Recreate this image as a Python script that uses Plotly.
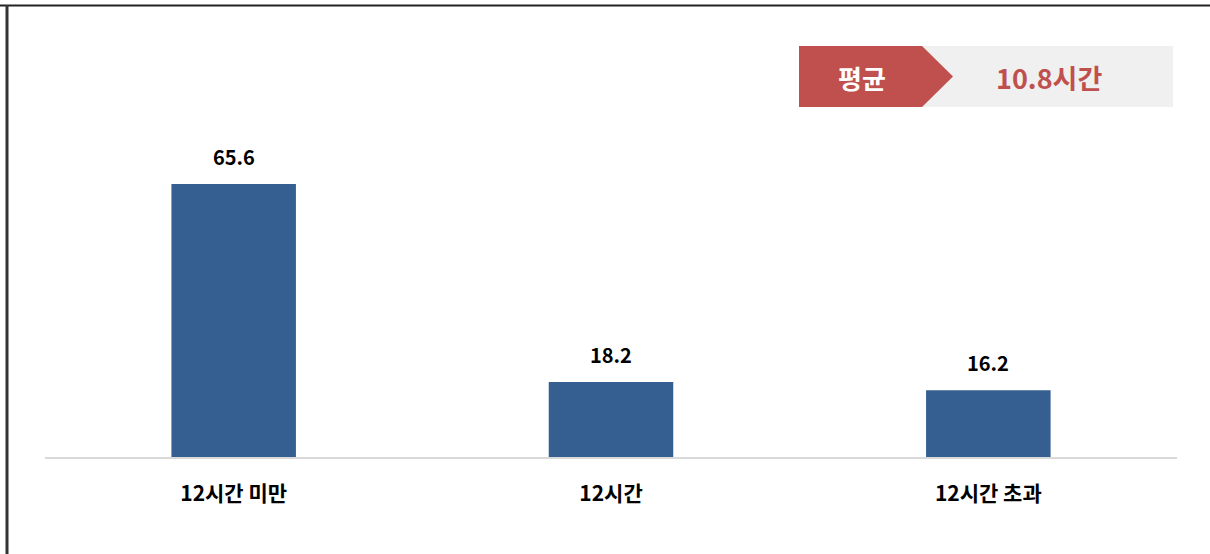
import plotly.graph_objects as go

categories = ["12시간 미만", "12시간", "12시간 초과"]
values = [65.6, 18.2, 16.2]
avg_label = "평균"
avg_value = 10.8
avg_unit = "시간"

W, H = 1210, 554
L, R, T, B = 45, 33, 30, 96
pw, ph = W - L - R, H - T - B

def px(x):
    return (x - L) / pw

def py(y):
    return (H - B - y) / ph

FONT = "Noto Sans CJK KR"
bar_color = "#365f91"
red = "#c0504d"

fig = go.Figure()
fig.add_trace(go.Bar(
    x=categories, y=values, width=0.33, marker_color=bar_color,
    marker_line_width=0, hoverinfo="skip",
))

annotations = []
for c, v in zip(categories, values):
    annotations.append(dict(
        x=c, y=v, xref="x", yref="y", text=f"<b>{v:.1f}</b>", showarrow=False,
        yanchor="bottom", yshift=11, font=dict(family=FONT, size=20, color="#000000"),
    ))

shapes = [
    # baseline
    dict(type="line", xref="paper", yref="paper", x0=0, x1=1, y0=0, y1=0,
         line=dict(color="#d9d9d9", width=2)),
    # frame borders
    dict(type="line", xref="paper", yref="paper", x0=px(0), x1=px(W), y0=py(5.5), y1=py(5.5),
         line=dict(color="#222222", width=2)),
    dict(type="line", xref="paper", yref="paper", x0=px(7), x1=px(7), y0=py(5), y1=py(H),
         line=dict(color="#333333", width=3)),
    # badge gray box
    dict(type="rect", xref="paper", yref="paper", x0=px(922), x1=px(1173), y0=py(46), y1=py(107),
         fillcolor="#f0f0f0", line=dict(width=0), layer="below"),
    # badge red arrow
    dict(type="path", xref="paper", yref="paper",
         path=f"M {px(799)},{py(46)} L {px(922)},{py(46)} L {px(953)},{py(76.5)} "
              f"L {px(922)},{py(107)} L {px(799)},{py(107)} Z",
         fillcolor=red, line=dict(width=0)),
]

annotations.append(dict(
    x=px(862), y=py(77), xref="paper", yref="paper", text=f"<b>{avg_label}</b>",
    showarrow=False, xanchor="center", yanchor="middle",
    font=dict(family=FONT, size=26, color="#ffffff"),
))
annotations.append(dict(
    x=px(1049), y=py(77), xref="paper", yref="paper", text=f"<b>{avg_value}{avg_unit}</b>",
    showarrow=False, xanchor="center", yanchor="middle",
    font=dict(family=FONT, size=27, color=red),
))

fig.update_layout(
    width=W, height=H,
    margin=dict(l=L, r=R, t=T, b=B),
    paper_bgcolor="white", plot_bgcolor="white",
    showlegend=False,
    bargap=0.67,
    xaxis=dict(showgrid=False, zeroline=False, showline=False, ticks="",
               tickfont=dict(family=FONT, size=21, color="#000000", weight="bold"),
               ticklabelstandoff=21),
    yaxis=dict(visible=False, range=[0, ph / (274 / 65.6)], showgrid=False, zeroline=False),
    shapes=shapes,
    annotations=annotations,
)

fig.write_html("out.html", config={"displayModeBar": False},
               post_script="document.body.style.margin='0';document.body.style.overflow='hidden';")
